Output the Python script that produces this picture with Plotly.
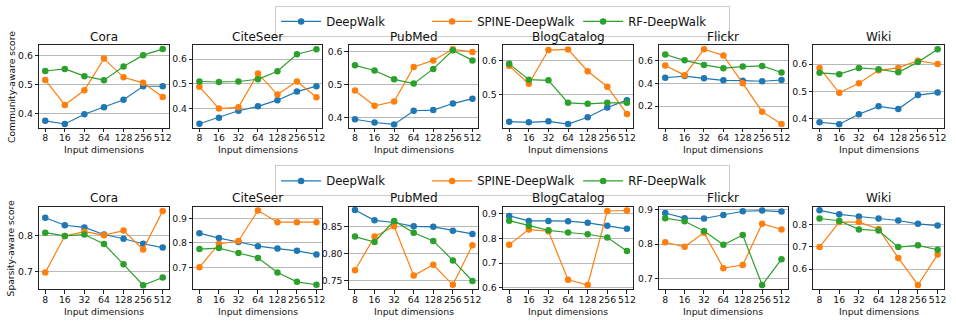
import plotly.graph_objects as go

# Embedding sizes on the x axis
dims = ["8", "16", "32", "64", "128", "256", "512"]
methods = ["DeepWalk", "SPINE-DeepWalk", "RF-DeepWalk"]
colors = ["#1f77b4", "#ff7f0e", "#2ca02c"]

# ---- Community-aware score ----
cora_comm_dw = [0.374, 0.363, 0.397, 0.421, 0.447, 0.494, 0.494]
cora_comm_spine = [0.516, 0.429, 0.480, 0.590, 0.525, 0.506, 0.457]
cora_comm_rf = [0.547, 0.554, 0.529, 0.515, 0.563, 0.602, 0.623]

citeseer_comm_dw = [0.337, 0.362, 0.390, 0.408, 0.433, 0.468, 0.490]
citeseer_comm_spine = [0.488, 0.399, 0.404, 0.542, 0.456, 0.509, 0.445]
citeseer_comm_rf = [0.509, 0.507, 0.509, 0.518, 0.551, 0.620, 0.640]

pubmed_comm_dw = [0.394, 0.384, 0.378, 0.420, 0.422, 0.442, 0.457]
pubmed_comm_spine = [0.482, 0.435, 0.448, 0.554, 0.574, 0.608, 0.600]
pubmed_comm_rf = [0.559, 0.543, 0.516, 0.503, 0.548, 0.605, 0.574]

blog_comm_dw = [0.419, 0.417, 0.420, 0.412, 0.432, 0.461, 0.483]
blog_comm_spine = [0.585, 0.532, 0.632, 0.634, 0.569, 0.523, 0.442]
blog_comm_rf = [0.591, 0.544, 0.542, 0.475, 0.472, 0.475, 0.475]

flickr_comm_dw = [0.450, 0.465, 0.445, 0.427, 0.424, 0.419, 0.430]
flickr_comm_spine = [0.557, 0.473, 0.701, 0.646, 0.401, 0.151, 0.042]
flickr_comm_rf = [0.655, 0.603, 0.563, 0.534, 0.548, 0.554, 0.496]

wiki_comm_dw = [0.388, 0.381, 0.417, 0.446, 0.436, 0.487, 0.496]
wiki_comm_spine = [0.586, 0.495, 0.530, 0.577, 0.586, 0.612, 0.600]
wiki_comm_rf = [0.568, 0.563, 0.586, 0.581, 0.570, 0.607, 0.654]

# ---- Sparsity-aware score ----
cora_sp_dw = [0.851, 0.830, 0.824, 0.804, 0.792, 0.778, 0.767]
cora_sp_spine = [0.697, 0.800, 0.812, 0.802, 0.815, 0.762, 0.870]
cora_sp_rf = [0.809, 0.800, 0.804, 0.777, 0.720, 0.661, 0.683]

citeseer_sp_dw = [0.840, 0.820, 0.804, 0.787, 0.777, 0.768, 0.753]
citeseer_sp_spine = [0.701, 0.796, 0.808, 0.933, 0.885, 0.885, 0.885]
citeseer_sp_rf = [0.775, 0.779, 0.759, 0.739, 0.679, 0.641, 0.629]

pubmed_sp_dw = [0.880, 0.861, 0.857, 0.850, 0.849, 0.842, 0.836]
pubmed_sp_spine = [0.769, 0.831, 0.850, 0.759, 0.779, 0.742, 0.815]
pubmed_sp_rf = [0.831, 0.821, 0.860, 0.838, 0.823, 0.787, 0.749]

blog_sp_dw = [0.891, 0.871, 0.871, 0.870, 0.863, 0.851, 0.839]
blog_sp_spine = [0.775, 0.836, 0.829, 0.633, 0.612, 0.911, 0.913]
blog_sp_rf = [0.872, 0.851, 0.833, 0.824, 0.817, 0.804, 0.749]

flickr_sp_dw = [0.890, 0.875, 0.874, 0.884, 0.895, 0.897, 0.894]
flickr_sp_spine = [0.805, 0.792, 0.833, 0.730, 0.739, 0.859, 0.842]
flickr_sp_rf = [0.875, 0.866, 0.838, 0.798, 0.826, 0.681, 0.756]

wiki_sp_dw = [0.865, 0.847, 0.837, 0.828, 0.819, 0.804, 0.796]
wiki_sp_spine = [0.699, 0.812, 0.812, 0.781, 0.650, 0.528, 0.665]
wiki_sp_rf = [0.828, 0.818, 0.779, 0.774, 0.699, 0.707, 0.687]

datasets = ["Cora", "CiteSeer", "PubMed", "BlogCatalog", "Flickr", "Wiki"]
row_labels = ["Community-aware score", "Sparsity-aware score"]

panels = [
    # row 0
    [(cora_comm_dw, cora_comm_spine, cora_comm_rf),
     (citeseer_comm_dw, citeseer_comm_spine, citeseer_comm_rf),
     (pubmed_comm_dw, pubmed_comm_spine, pubmed_comm_rf),
     (blog_comm_dw, blog_comm_spine, blog_comm_rf),
     (flickr_comm_dw, flickr_comm_spine, flickr_comm_rf),
     (wiki_comm_dw, wiki_comm_spine, wiki_comm_rf)],
    # row 1
    [(cora_sp_dw, cora_sp_spine, cora_sp_rf),
     (citeseer_sp_dw, citeseer_sp_spine, citeseer_sp_rf),
     (pubmed_sp_dw, pubmed_sp_spine, pubmed_sp_rf),
     (blog_sp_dw, blog_sp_spine, blog_sp_rf),
     (flickr_sp_dw, flickr_sp_spine, flickr_sp_rf),
     (wiki_sp_dw, wiki_sp_spine, wiki_sp_rf)],
]

# y ranges, tick spacing and formats per panel
y_ranges = [
    [(0.350, 0.636), (0.321, 0.656), (0.368, 0.620), (0.401, 0.646), (0.010, 0.735), (0.368, 0.668)],
    [(0.650, 0.882), (0.611, 0.948), (0.734, 0.886), (0.595, 0.928), (0.669, 0.908), (0.509, 0.881)],
]
y_dticks = [
    [0.1, 0.1, 0.1, 0.1, 0.2, 0.1],
    [0.1, 0.1, 0.05, 0.1, 0.1, 0.1],
]
y_formats = [
    [".1f"] * 6,
    [".1f", ".1f", ".2f", ".1f", ".1f", ".1f"],
]

W, H = 956, 323
col_px = [(39.3, 169.3), (194.0, 323.5), (350.0, 480.0), (504.7, 635.0), (661.3, 790.0), (816.0, 946.7)]
row_px = [(43.3, 127.5), (208.3, 292.5)]

FONT = "DejaVu Sans"
TICK_SIZE = 9.3
fig = go.Figure()
annotations = []

for r in range(2):
    top, bot = row_px[r]
    for c in range(6):
        k = r * 6 + c + 1
        xa = "x" if k == 1 else f"x{k}"
        ya = "y" if k == 1 else f"y{k}"
        x0, x1 = col_px[c]
        for m, (series, color) in enumerate(zip(panels[r][c], colors)):
            fig.add_trace(go.Scatter(
                x=dims, y=series, mode="lines+markers", name=methods[m],
                line=dict(color=color, width=1.2),
                marker=dict(color=color, size=6.5),
                xaxis=xa, yaxis=ya,
                legend="legend" if r == 0 else "legend2",
                showlegend=(c == 0),
            ))
        fig.layout[f"xaxis{k}"] = dict(
            domain=[x0 / W, x1 / W], anchor=ya, type="category",
            range=[-0.31, 6.31], showgrid=False, zeroline=False,
            showline=True, mirror=True, linecolor="#222", linewidth=1,
            ticks="outside", ticklen=3.5, tickcolor="#222", tickangle=0,
            ticklabelstandoff=-2,
            tickfont=dict(family=FONT, size=TICK_SIZE, color="#111"),
        )
        fig.layout[f"yaxis{k}"] = dict(
            domain=[1 - bot / H, 1 - top / H], anchor=xa,
            range=list(y_ranges[r][c]), dtick=y_dticks[r][c], tick0=0,
            tickformat=y_formats[r][c],
            showgrid=True, gridcolor="#b8b8b8", gridwidth=1, zeroline=False,
            showline=True, mirror=True, linecolor="#222", linewidth=1,
            ticks="outside", ticklen=3.5, tickcolor="#222",
            tickfont=dict(family=FONT, size=TICK_SIZE, color="#111"),
        )
        xc = (x0 + x1) / 2 / W
        annotations.append(dict(
            text=datasets[c], x=xc, y=1 - (top - 9.0) / H, xref="paper", yref="paper",
            showarrow=False, xanchor="center", yanchor="middle",
            font=dict(family=FONT, size=12, color="#111"),
        ))
        annotations.append(dict(
            text="Input dimensions", x=xc, y=1 - (bot + 22.5) / H, xref="paper", yref="paper",
            showarrow=False, xanchor="center", yanchor="middle",
            font=dict(family=FONT, size=9.3, color="#111"),
        ))
    annotations.append(dict(
        text=row_labels[r], x=11.5 / W, y=1 - (top + bot) / 2 / H, xref="paper", yref="paper",
        showarrow=False, textangle=-90, xanchor="center", yanchor="middle",
        font=dict(family=FONT, size=9.2, color="#111"),
    ))

legend_style = dict(
    orientation="h", xanchor="left", yanchor="top",
    bgcolor="white", bordercolor="#cccccc", borderwidth=1,
    font=dict(family=FONT, size=11.7, color="#111"),
    entrywidth=96, entrywidthmode="pixels", itemwidth=40,
)
fig.update_layout(
    width=W, height=H, autosize=False,
    margin=dict(l=0, r=0, t=0, b=0),
    paper_bgcolor="white", plot_bgcolor="white",
    annotations=annotations,
    legend=dict(x=276 / W, y=1 - 3 / H, **legend_style),
    legend2=dict(x=276 / W, y=1 - 166 / H, **legend_style),
)

fig.write_html("out.html")
